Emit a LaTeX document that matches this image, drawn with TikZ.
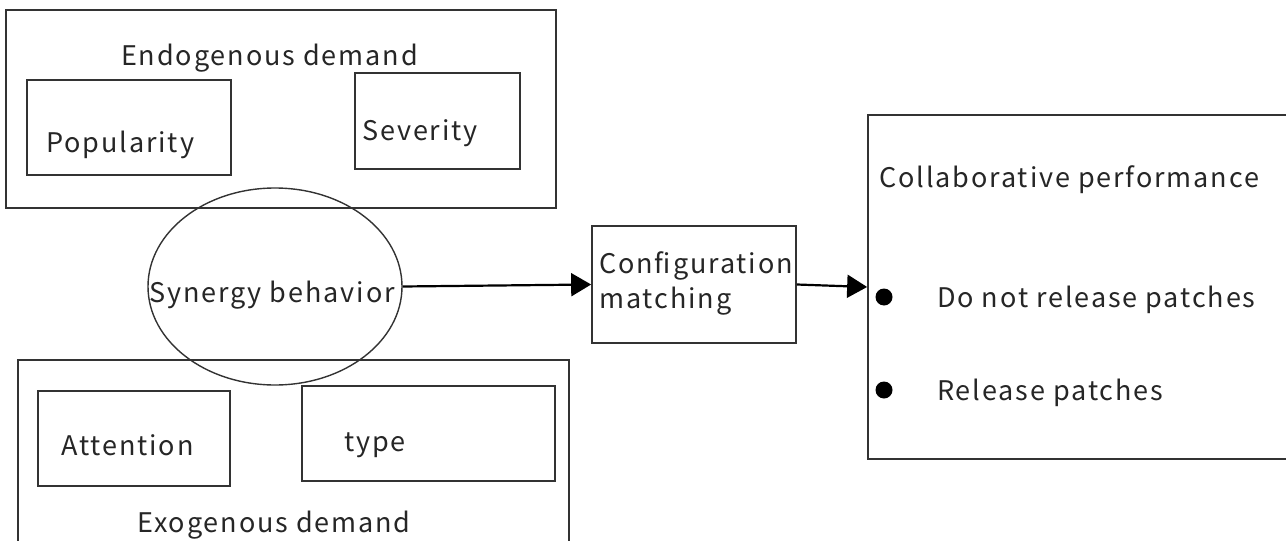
\documentclass[tikz,border=0pt]{standalone}
\usepackage{fontspec}
\setmainfont{Noto Sans CJK JP}[LetterSpace=7]
\usetikzlibrary{shapes.geometric,arrows.meta}
\definecolor{ln}{HTML}{333333}
\definecolor{tx}{HTML}{262626}
\tikzset{
  boxshape/.style={draw=ln, line width=1.7pt, rectangle, inner sep=0pt},
  lbl/.style={text=tx, font=\fontsize{27}{31}\selectfont, inner sep=0pt, anchor=west, yshift=-3pt},
  conn/.style={draw=black, line width=2.2pt, -{Triangle[length=20pt,width=23pt]}},
  dot/.style={circle, fill=black, inner sep=0pt, minimum size=17pt}
}
\begin{document}
\begin{tikzpicture}[x=1pt,y=-1pt]
\useasboundingbox (0,0) rectangle (1286,541);
\fill[white] (0,0) rectangle (1286,541);
% endogenous
\node[boxshape, minimum width=550pt, minimum height=198pt] (endo) at (281,109) {};
\node[lbl] (endot) at (121,55) {Endogenous demand};
\node[boxshape, minimum width=204pt, minimum height=95pt] (pop) at (129,127.5) {};
\node[lbl] (popt) at (46,142) {Popularity};
\node[boxshape, minimum width=165pt, minimum height=96pt] (sev) at (437.5,121) {};
\node[lbl] (sevt) at (362,130) {Severity};
% exogenous
\node[boxshape, minimum width=551pt, minimum height=220pt] (exo) at (293.5,470) {};
\node[boxshape, minimum width=192pt, minimum height=95pt] (att) at (134,438.5) {};
\node[lbl] (attt) at (61,442) {Attention};
\node[boxshape, minimum width=253pt, minimum height=95pt] (typ) at (428.5,433.5) {};
\node[lbl] (typt) at (344,442) {type};
\node[lbl] (exot) at (137,522) {Exogenous demand};
% synergy ellipse
\node[draw=ln, line width=1.4pt, ellipse, minimum width=254pt, minimum height=197pt, inner sep=0pt] (syn) at (275,286.5) {};
\node[lbl] (synt) at (149,292) {Synergy behavior};
% configuration
\node[boxshape, minimum width=204pt, minimum height=117pt] (conf) at (694,284.5) {};
\node[lbl] (conft1) at (599,263) {Configuration};
\node[lbl] (conft2) at (599,298) {matching};
% collaborative
\node[boxshape, minimum width=440pt, minimum height=344pt] (coll) at (1088,287) {};
\node[lbl] (collt) at (879,177) {Collaborative performance};
\node[dot] (d1) at (884,297) {};
\node[lbl] (i1) at (937,297) {Do not release patches};
\node[dot] (d2) at (884,390) {};
\node[lbl] (i2) at (937,390) {Release patches};
% connectors
\draw[conn] (syn.east) -- (conf.west);
\draw[conn] (conf.east) -- (coll.west);
\end{tikzpicture}
\end{document}
